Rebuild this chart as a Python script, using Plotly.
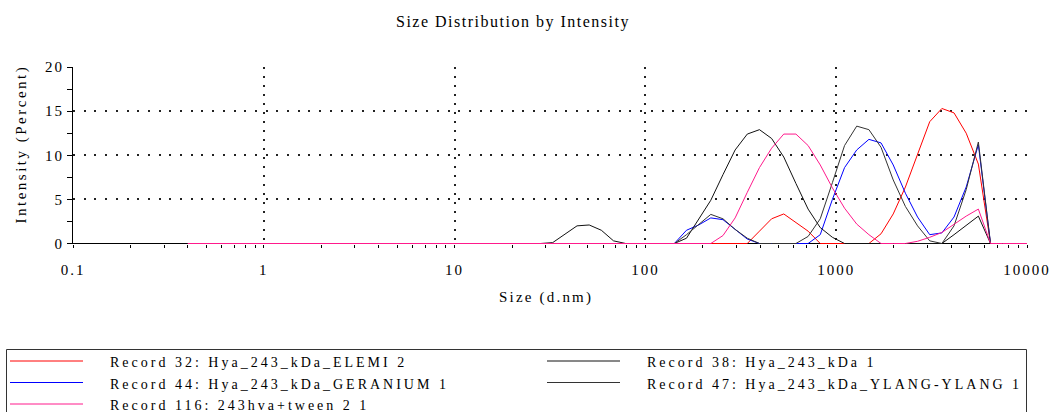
import plotly.graph_objects as go

# Zetasizer size classes (d.nm), 70 log-spaced bins
sizes_nm = [0.4, 0.4632, 0.5365, 0.6213, 0.7195, 0.8332, 0.9649, 1.117, 1.294, 1.499,
            1.736, 2.010, 2.328, 2.696, 3.122, 3.615, 4.187, 4.849, 5.615, 6.503,
            7.531, 8.721, 10.10, 11.70, 13.54, 15.69, 18.17, 21.04, 24.36, 28.21,
            32.67, 37.84, 43.82, 50.75, 58.77, 68.06, 78.82, 91.28, 105.7, 122.4,
            141.8, 164.2, 190.1, 220.2, 255.0, 295.3, 342.0, 396.1, 458.7, 531.2,
            615.1, 712.4, 825.0, 955.4, 1106, 1281, 1484, 1718, 1990, 2305,
            2669, 3091, 3580, 4145, 4801, 5560, 6439, 7456, 8635, 10000]

# Intensity (%) per size class
rec32_elemi = [0, 0, 0, 0, 0, 0, 0, 0, 0, 0,
               0, 0, 0, 0, 0, 0, 0, 0, 0, 0,
               0, 0, 0, 0, 0, 0, 0, 0, 0, 0,
               0, 0, 0, 0, 0, 0, 0, 0, 0, 0,
               0, 0, 0, 0, 0, 0, 0, 1.4, 2.8, 3.35,
               2.4, 1.4, 0, 0, 0, 0, 0, 1.1, 3.35, 6.4,
               10.2, 13.8, 15.3, 14.8, 12.5, 9.0, 0, 0, 0, 0]

rec44_geranium = [0, 0, 0, 0, 0, 0, 0, 0, 0, 0,
                  0, 0, 0, 0, 0, 0, 0, 0, 0, 0,
                  0, 0, 0, 0, 0, 0, 0, 0, 0, 0,
                  0, 0, 0, 0, 0, 0, 0, 0, 0, 0,
                  0, 1.5, 2.1, 2.9, 2.7, 1.6, 0.5, 0, 0, 0,
                  0, 0, 1.0, 5.0, 8.6, 10.6, 11.8, 11.4, 8.9, 5.7,
                  3.0, 1.0, 1.2, 3.0, 6.4, 11.2, 0, 0, 0, 0]

rec116_tween = [0, 0, 0, 0, 0, 0, 0, 0, 0, 0,
                0, 0, 0, 0, 0, 0, 0, 0, 0, 0,
                0, 0, 0, 0, 0, 0, 0, 0, 0, 0,
                0, 0, 0, 0, 0, 0, 0, 0, 0, 0,
                0, 0, 0, 0, 0.9, 2.9, 5.8, 8.6, 10.8, 12.4,
                12.4, 11.1, 8.9, 6.3, 4.0, 2.2, 1.0, 0, 0, 0,
                0.25, 0.7, 1.25, 2.2, 3.1, 3.9, 0, 0, 0, 0]

rec38_hya = [0, 0, 0, 0, 0, 0, 0, 0, 0, 0,
             0, 0, 0, 0, 0, 0, 0, 0, 0, 0,
             0, 0, 0, 0, 0, 0, 0, 0, 0, 0,
             0.1, 1.1, 2.0, 2.1, 1.5, 0.3, 0, 0, 0, 0,
             0, 0.6, 2.7, 4.9, 7.8, 10.6, 12.4, 12.9, 11.9, 9.8,
             6.8, 3.9, 1.8, 0.7, 0, 0, 0, 0, 0, 0,
             0, 0, 0, 1.0, 2.0, 3.1, 0, 0, 0, 0]

rec47_ylang = [0, 0, 0, 0, 0, 0, 0, 0, 0, 0,
               0, 0, 0, 0, 0, 0, 0, 0, 0, 0,
               0, 0, 0, 0, 0, 0, 0, 0, 0, 0,
               0, 0, 0, 0, 0, 0, 0, 0, 0, 0,
               0, 1.0, 2.1, 3.3, 2.8, 1.6, 0.6, 0, 0, 0,
               0, 0.8, 2.8, 6.9, 11.1, 13.3, 12.9, 10.9, 7.2, 4.2,
               2.0, 0.3, 0, 2.0, 6.1, 11.5, 0, 0, 0, 0]

record_names = ["Record 32: Hya_243_kDa_ELEMI 2",
                "Record 44: Hya_243_kDa_GERANIUM 1",
                "Record 116: 243hva+tween 2 1",
                "Record 38: Hya_243_kDa 1",
                "Record 47: Hya_243_kDa_YLANG-YLANG 1"]
record_values = [rec32_elemi, rec44_geranium, rec116_tween, rec38_hya, rec47_ylang]
record_colors = ["#ff0000", "#0000ff", "#ff1a8c", "#111111", "#333333"]

x_ticks = [0.1, 1, 10, 100, 1000, 10000]
x_tick_text = ["0.1", "1", "10", "100", "1000", "10000"]
y_ticks = [0, 5, 10, 15, 20]
y_tick_text = ["0", "5", "10", "15", "20"]

FONT = "Liberation Serif"
W, H = 1053, 412
L, R, T, B = 73, 26, 67, 168
PW, PH = W - L - R, H - T - B
# half-pixel pad so the zero baseline sits on a whole pixel row inside the plot area
Y_MIN = -0.5 * 20 / (PH - 0.5)


def spaced(text, px):
    return f'<span style="letter-spacing:{px}px">{text}</span>'


def fx(px):
    return (px - L) / PW


def fy(py):
    return (H - B - py) / PH


fig = go.Figure()

# draw order keeps the pink record on top along the baseline
draw_order = [0, 1, 3, 4, 2]
for i in draw_order:
    fig.add_trace(go.Scatter(
        x=sizes_nm, y=record_values[i], mode="lines", name=record_names[i],
        line=dict(color=record_colors[i], width=1),
        showlegend=False, hoverinfo="skip"))

minor_x = [m * 10 ** d for d in range(-1, 4) for m in range(2, 10)]

fig.update_xaxes(
    type="log", range=[-1, 4], automargin=False,
    tickmode="array", tickvals=x_ticks,
    ticktext=[spaced(t, 2) for t in x_tick_text],
    ticks="outside", ticklen=3, tickcolor="black", tickwidth=1,
    ticklabelstandoff=9,
    minor=dict(tickmode="array", tickvals=minor_x, ticks="outside",
               ticklen=3, tickcolor="black", showgrid=False),
    showline=False,
    showgrid=True, gridcolor="#222222", gridwidth=2, griddash="2px,7px",
    zeroline=False, layer="below traces",
    tickfont=dict(family=FONT, size=15, color="black"))

fig.update_yaxes(
    range=[Y_MIN, 20], automargin=False,
    tickmode="array", tickvals=y_ticks,
    ticktext=[spaced(t, 2) for t in y_tick_text],
    ticks="outside", ticklen=5, tickcolor="black", tickwidth=1,
    minor=dict(tickmode="array", tickvals=[2.5, 7.5, 12.5, 17.5], ticks="outside",
               ticklen=5, tickcolor="black", showgrid=False),
    showline=True, linecolor="black", linewidth=1,
    showgrid=True, gridcolor="#222222", gridwidth=2, griddash="2px,8.7px",
    zeroline=False, layer="below traces",
    tickfont=dict(family=FONT, size=15, color="black"))

annotations = [
    dict(text=spaced("Size Distribution by Intensity", 1.5), x=fx(513), y=fy(22),
         font=dict(size=16)),
    dict(text=spaced("Size (d.nm)", 2.2), x=fx(546), y=fy(297), font=dict(size=15)),
    dict(text=spaced("Intensity (Percent)", 2.5), x=fx(20.5), y=fy(144),
         textangle=-90, font=dict(size=15)),
]

# x axis baseline at zero intensity, underneath the traces
shapes = [dict(type="line", xref="paper", yref="y", x0=0, x1=1, y0=0, y1=0,
               layer="below", line=dict(color="black", width=1))]

# legend box with long line samples in two columns
shapes.append(dict(type="rect", xref="paper", yref="paper",
                   x0=fx(6.5), x1=fx(1026.5), y0=fy(349.5), y1=fy(440),
                   line=dict(color="#333333", width=1), fillcolor="rgba(0,0,0,0)"))
legend_slots = [(10, 83, 108, 361), (10, 83, 108, 382.5), (10, 83, 108, 404),
                (547, 620, 645, 361), (547, 620, 645, 382.5)]
for (lx0, lx1, tx, ly), name, color in zip(legend_slots, record_names, record_colors):
    shapes.append(dict(type="line", xref="paper", yref="paper",
                       x0=fx(lx0), x1=fx(lx1), y0=fy(ly), y1=fy(ly),
                       line=dict(color=color, width=1)))
    annotations.append(dict(text=spaced(name, 3), x=fx(tx), y=fy(ly + 1.5),
                            xanchor="left", font=dict(size=14)))

for a in annotations:
    a.setdefault("xanchor", "center")
    a.update(xref="paper", yref="paper", yanchor="middle", showarrow=False)
    a["font"] = dict(family=FONT, color="black", **a["font"])

fig.update_layout(
    width=W, height=H,
    margin=dict(l=L, r=R, t=T, b=B),
    paper_bgcolor="white", plot_bgcolor="white",
    showlegend=False,
    annotations=annotations, shapes=shapes,
    font=dict(family=FONT, color="black"))

fig.write_html("out.html")
